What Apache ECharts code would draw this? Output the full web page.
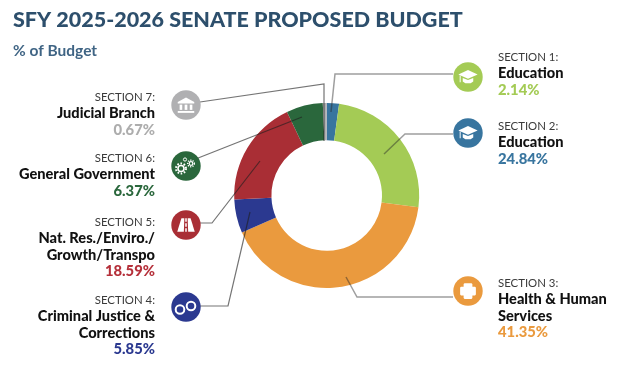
<!DOCTYPE html>
<html>
<head>
<meta charset="utf-8">
<script src="https://cdn.jsdelivr.net/npm/echarts@6/dist/echarts.min.js"></script>
<style>
  html, body { margin: 0; padding: 0; background: #fff; }
  #chart { width: 624px; height: 373px; }
</style>
</head>
<body>
<div id="chart"></div>
<script>
const sections = ["SECTION 1:", "SECTION 2:", "SECTION 3:", "SECTION 4:", "SECTION 5:", "SECTION 6:", "SECTION 7:"];
const names = [
  ["Education"],
  ["Education"],
  ["Health & Human", "Services"],
  ["Criminal Justice &", "Corrections"],
  ["Nat. Res./Enviro./", "Growth/Transpo"],
  ["General Government"],
  ["Judicial Branch"],
];
const values = [2.14, 24.84, 41.35, 5.85, 18.59, 6.37, 0.67];
const iconColors = ["#a4cb55", "#38759f", "#ea9a3e", "#2b3990", "#a92e35", "#2a673c", "#b0b0b2"];
// the source swaps blue and green between the first two slices and their call-outs
const sliceColors = ["#38759f", "#a4cb55", "#ea9a3e", "#2b3990", "#a92e35", "#2a673c", "#b0b0b2"];
const pctColors = ["#a4cb55", "#38759f", "#ea9a3e", "#2b3990", "#b5303a", "#2a673c", "#adadad"];

// layout of the call-outs, same order as the sections
const textX = [498, 498, 498, 155, 155, 155, 155];
const textY = [57, 126, 283, 300, 222, 158, 97];
const iconPos = [[468, 77], [468, 133], [468, 291], [186, 307], [186, 225], [186, 166], [186, 105]];
const leaders = [
  [[453, 74], [335, 74], [331, 112]],
  [[453, 134], [405, 134], [384, 154]],
  [[453, 297], [357, 297], [346, 277]],
  [[197, 306], [228, 306], [250, 212]],
  [[200, 223], [212, 223], [260, 161]],
  [[188, 162], [302, 117]],
  [[200, 102], [324, 84], [324, 141]],
];

const FONT = "Lato";

// icon glyphs as polygons on a 24x24 grid
const capIcon = [
  [[1, 9], [12, 4], [23, 9], [12, 14]],
  [[6, 13], [12, 15.5], [18, 13], [18, 17], [15, 19], [9, 19], [6, 17]],
  [[2.5, 10], [3.6, 10.5], [3.6, 18], [2.5, 18]],
];
const bankIcon = [
  [[12, 2], [23, 8], [23, 10], [1, 10], [1, 8]],
  [[3.5, 11.5], [7, 11.5], [7, 18.5], [3.5, 18.5]],
  [[10.2, 11.5], [13.8, 11.5], [13.8, 18.5], [10.2, 18.5]],
  [[17, 11.5], [20.5, 11.5], [20.5, 18.5], [17, 18.5]],
  [[1, 20], [23, 20], [23, 22.5], [1, 22.5]],
];
const crossIcon = [
  [[8, 3], [16, 3], [17, 4], [17, 7], [20, 7], [21, 8], [21, 16], [20, 17], [17, 17], [17, 20], [16, 21], [8, 21], [7, 20], [7, 17], [4, 17], [3, 16], [3, 8], [4, 7], [7, 7], [7, 4]],
];
const roadIcon = [
  [[6.5, 4], [10, 4], [9.4, 20], [1.5, 20]],
  [[14, 4], [17.5, 4], [22.5, 20], [14.6, 20]],
  [[11.1, 4], [12.9, 4], [12.9, 8], [11.1, 8]],
  [[11.1, 10], [12.9, 10], [12.9, 14], [11.1, 14]],
  [[11.1, 16], [12.9, 16], [12.9, 20], [11.1, 20]],
];

function icon(polys, cx, cy, size) {
  const k = size / 24;
  return polys.map((pts) => ({
    type: "polygon", z: 12,
    shape: { points: pts.map((p) => [cx + (p[0] - 12) * k, cy + (p[1] - 12) * k]) },
    style: { fill: "#fff" },
  }));
}
function ring(cx, cy, r, width, dash) {
  return {
    type: "circle", z: 12,
    shape: { cx: cx, cy: cy, r: r },
    style: { fill: "none", stroke: "#fff", lineWidth: width, lineDash: dash || null },
  };
}

const graphics = [];

leaders.forEach((pts, i) => {
  // translucent so the line reads grey on white and darker over the slices
  graphics.push({
    type: "polyline", z: 10,
    shape: { points: pts },
    style: i < 3
      ? { fill: "none", stroke: "rgba(40,40,40,0.45)", lineWidth: 1.5 }
      : { fill: "none", stroke: "rgba(30,30,30,0.62)", lineWidth: 1.2 },
  });
});

iconPos.forEach((p, i) => {
  graphics.push({
    type: "circle", z: 11,
    shape: { cx: p[0], cy: p[1], r: 14.7 },
    style: { fill: iconColors[i] },
  });
});

// white glyphs inside the circles
graphics.push(...icon(capIcon, 468, 77, 21));
graphics.push(...icon(capIcon, 468, 133, 21));
graphics.push(...icon(crossIcon, 468, 291, 21));
graphics.push(ring(180, 309.5, 4.3, 2), ring(191, 306, 4.3, 2));
graphics.push(...icon(roadIcon, 186, 225, 20));
graphics.push(
  ring(181, 168.5, 3, 1.6), ring(181, 168.5, 5, 2, [1.6, 1.6]),
  ring(191, 163.5, 1.8, 1.2), ring(191, 163.5, 3.3, 1.4, [1.2, 1.2]),
  ring(185, 159.5, 1.6, 1)
);
graphics.push(...icon(bankIcon, 186, 105, 18));

// call-out text
sections.forEach((s, i) => {
  const align = textX[i] < 300 ? "right" : "left";
  const addLine = (text, y, font, fill) => {
    graphics.push({
      type: "text", z: 13, x: textX[i], y: y,
      style: { text: text, font: font, fill: fill, align: align, verticalAlign: "middle" },
    });
  };
  let y = textY[i];
  addLine(s, y, "400 11.4px " + FONT, "#3a3a3a");
  names[i].forEach((n) => {
    y += 16.5;
    addLine(n, y, "900 14.6px " + FONT, "#111");
  });
  y += 16.5;
  addLine(values[i].toFixed(2) + "%", y, "900 14.8px " + FONT, pctColors[i]);
});

const chart = echarts.init(document.getElementById("chart"), null, { renderer: "canvas" });
chart.setOption({
  animation: false,
  title: {
    text: "SFY 2025-2026 SENATE PROPOSED BUDGET",
    subtext: "% of Budget",
    left: 8,
    top: 4,
    itemGap: 12,
    textStyle: { fontFamily: FONT, fontWeight: 900, fontSize: 21.5, color: "#2d4f6c" },
    subtextStyle: { fontFamily: FONT, fontWeight: 700, fontSize: 15.5, color: "#3f6484" },
  },
  graphic: graphics,
  series: [
    {
      type: "pie",
      radius: [55.3, 92.5],
      center: [326.7, 195.5],
      startAngle: 90,
      clockwise: true,
      silent: true,
      label: { show: false },
      labelLine: { show: false },
      data: values.map((v, i) => ({
        name: sections[i],
        value: v,
        itemStyle: { color: sliceColors[i] },
      })),
    },
  ],
});
</script>
</body>
</html>
